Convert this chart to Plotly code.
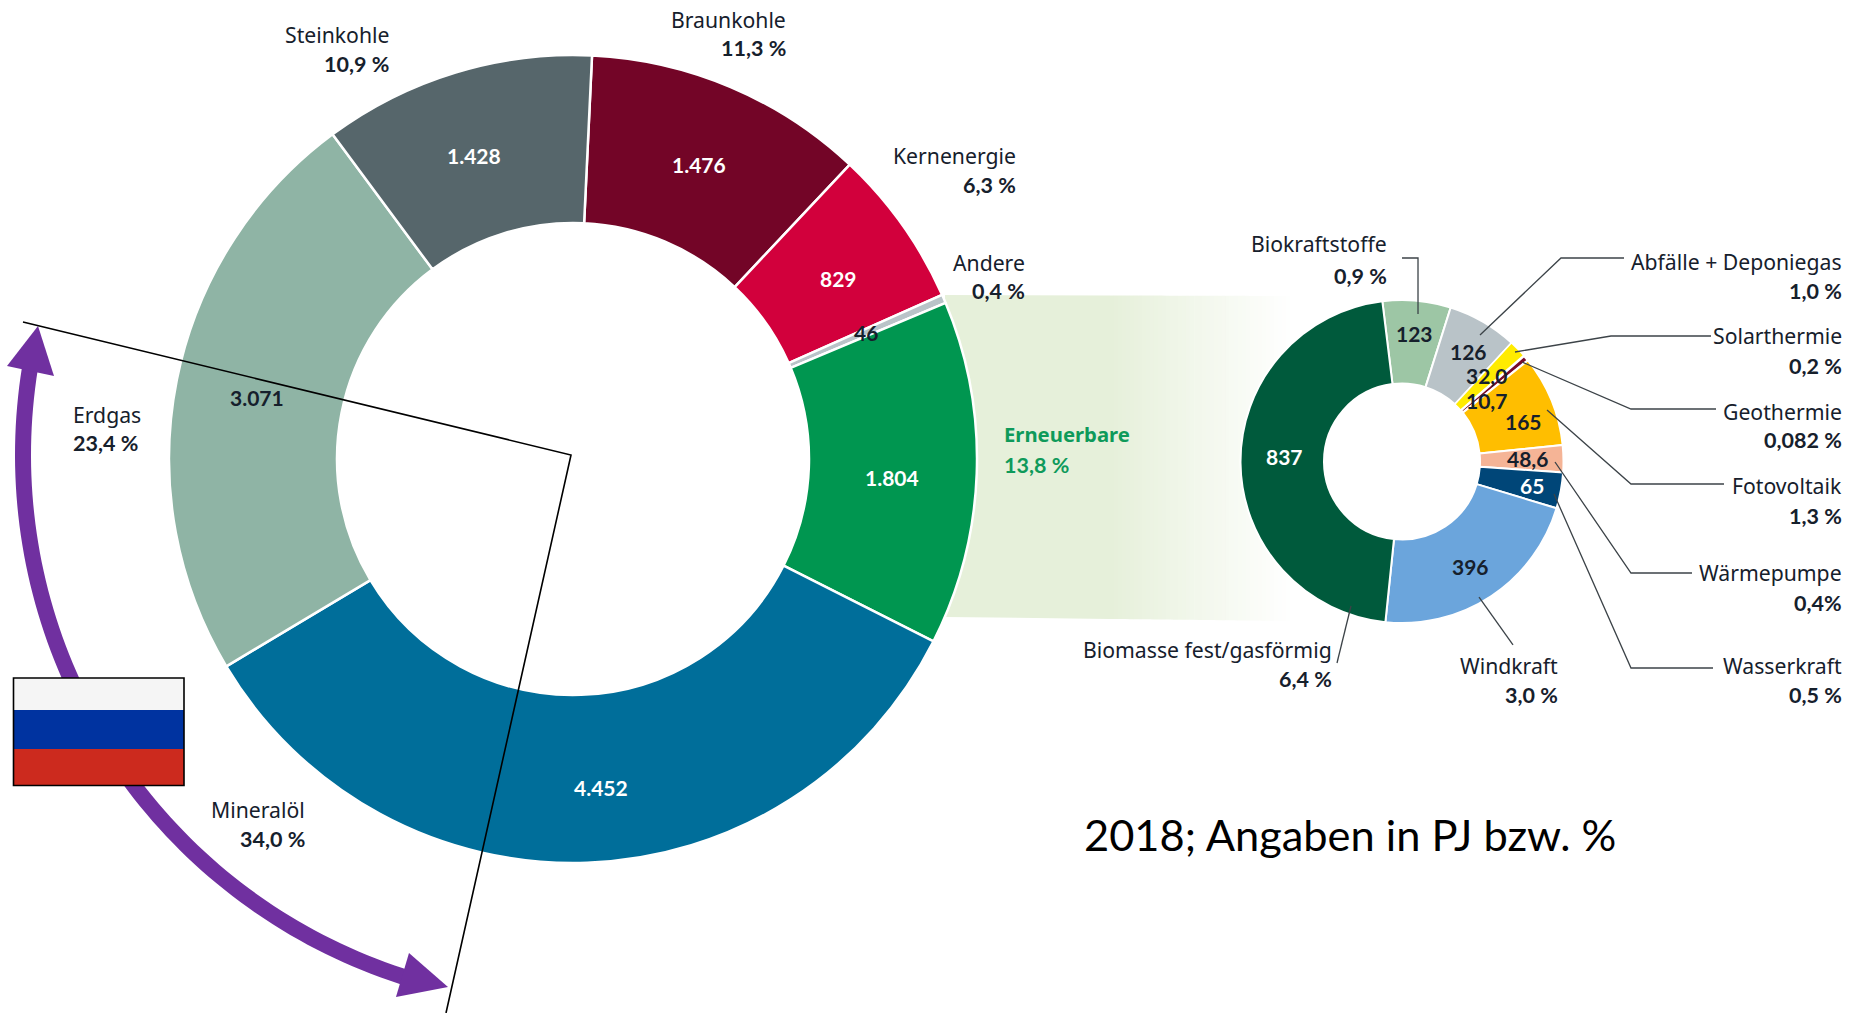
import math
import plotly.graph_objects as go

W, H = 1850, 1013

# ---- data ----
main_labels = ["Braunkohle", "Kernenergie", "Andere", "Erneuerbare", "Mineralöl", "Erdgas", "Steinkohle"]
main_values = [1476, 829, 46, 1804, 4452, 3071, 1428]
main_colors = ["#730527", "#D2003C", "#B9C3C8", "#009650", "#006E9A", "#8FB4A5", "#56666B"]
main_value_text = ["1.476", "829", "46", "1.804", "4.452", "3.071", "1.428"]
main_value_color = ["white", "white", "#16202c", "white", "white", "#16202c", "white"]
main_value_xy = [(699, 165), (838, 278), (866, 332), (892, 477), (601, 787), (257, 397), (474, 156)]

ren_labels = ["Biokraftstoffe", "Abfälle + Deponiegas", "Solarthermie", "Geothermie", "Fotovoltaik",
              "Wärmepumpe", "Wasserkraft", "Windkraft", "Biomasse fest/gasförmig"]
ren_values = [123, 126, 32.0, 10.7, 165, 48.6, 65, 396, 837]
ren_colors = ["#9DC6A5", "#B9C3C8", "#FFEB00", "#780A28", "#FFBE00", "#F5B496", "#004678", "#6BA5DC", "#005A3C"]
ren_value_text = ["123", "126", "32,0", "10,7", "165", "48,6", "65", "396", "837"]
ren_value_color = ["#16202c"] * 6 + ["white", "#16202c", "white"]
ren_value_xy = [(1414, 333), (1468, 351), (1486, 376), (1486, 400), (1523, 422), (1527, 458), (1532, 486), (1470, 566), (1284, 457)]

# name, percent, anchor x, y name, y percent, align
outer_labels = [
    ("Steinkohle", "10,9 %", 391, 34, 64, "right"),
    ("Braunkohle", "11,3 %", 788, 19, 48, "right"),
    ("Kernenergie", "6,3 %", 1018, 156, 185, "right"),
    ("Andere", "0,4 %", 1027, 262, 291, "right"),
    ("Erdgas", "23,4 %", 71, 414, 443, "left"),
    ("Mineralöl", "34,0 %", 307, 809, 839, "right"),
    ("Biokraftstoffe", "0,9 %", 1389, 244, 276, "right"),
    ("Abfälle + Deponiegas", "1,0 %", 1844, 261, 291, "right"),
    ("Solarthermie", "0,2 %", 1844, 335, 366, "right"),
    ("Geothermie", "0,082 %", 1844, 411, 440, "right"),
    ("Fotovoltaik", "1,3 %", 1844, 486, 516, "right"),
    ("Wärmepumpe", "0,4%", 1844, 572, 603, "right"),
    ("Wasserkraft", "0,5 %", 1844, 665, 695, "right"),
    ("Windkraft", "3,0 %", 1560, 665, 695, "right"),
    ("Biomasse fest/gasförmig", "6,4 %", 1334, 649, 679, "right"),
]
renew_title = ("Erneuerbare", "13,8 %")
caption = "2018; Angaben in PJ bzw. %"

leaders = [
    [(1402, 258), (1418, 258), (1418, 314)],
    [(1624, 258), (1561, 258), (1480, 335)],
    [(1711, 336), (1611, 336), (1515, 352)],
    [(1716, 409), (1631, 409), (1522, 362)],
    [(1724, 484), (1631, 484), (1547, 410)],
    [(1692, 573), (1631, 573), (1555, 462)],
    [(1713, 668), (1631, 668), (1554, 494)],
    [(1513, 645), (1479, 597)],
    [(1337, 663), (1351, 606)],
]

# ---- helpers ----
px = lambda x: x / W
py = lambda y: 1 - y / H


def pie_domain(cx, cy, r):
    return dict(x=[px(cx - r), px(cx + r)], y=[py(cy + r), py(cy - r)])


def path_of(points, close=False):
    s = "M" + " L".join(f"{px(x):.5f},{py(y):.5f}" for x, y in points)
    return s + (" Z" if close else "")


shapes = []

# gradient ribbon behind the donuts
RIB = "230,240,218"
x0, x1, xf = 945, 1110, 1292
top0, top1 = 295, 296
bot0, bot1 = 617, 621


def top(x):
    return top0 + (top1 - top0) * (x - x0) / (xf - x0)


def bot(x):
    return bot0 + (bot1 - bot0) * (x - x0) / (xf - x0)


shapes.append(dict(type="path", xref="paper", yref="paper", layer="below", line_width=0,
                   fillcolor=f"rgb({RIB})",
                   path=path_of([(x0, top(x0)), (x1, top(x1)), (x1, bot(x1)), (x0, bot(x0))], True)))
for x in range(x1, xf, 4):
    a = 1 - (x + 2 - x1) / (xf - x1)
    shapes.append(dict(type="path", xref="paper", yref="paper", layer="below", line_width=0,
                       fillcolor=f"rgba({RIB},{a:.3f})",
                       path=path_of([(x, top(x)), (x + 4, top(x + 4)), (x + 4, bot(x + 4)), (x, bot(x))], True)))

# leader lines
for pts in leaders:
    shapes.append(dict(type="path", xref="paper", yref="paper", layer="above",
                       line=dict(color="#3c4348", width=1.3), path=path_of(pts)))

# purple arc arrow
ACX, ACY, AR = 571, 455, 548
PURPLE = "#7030A0"


def on_arc(deg):
    t = math.radians(deg)
    return (ACX + AR * math.cos(t), ACY + AR * math.sin(t))


a_start, a_end = 107, 180 + 9.1  # screen degrees, y down
arc_pts = [on_arc(a_start + (a_end - a_start) * i / 80) for i in range(81)]
shapes.append(dict(type="path", xref="paper", yref="paper", layer="above",
                   line=dict(color=PURPLE, width=16), path=path_of(arc_pts)))
shapes.append(dict(type="path", xref="paper", yref="paper", layer="above", fillcolor=PURPLE, line_width=0,
                   path=path_of([(38, 326), (7, 366), (54, 376)], True)))
shapes.append(dict(type="path", xref="paper", yref="paper", layer="above", fillcolor=PURPLE, line_width=0,
                   path=path_of([(448, 987), (409, 953), (396, 997)], True)))

# thin black angle lines
shapes.append(dict(type="path", xref="paper", yref="paper", layer="above",
                   line=dict(color="#000000", width=1.6),
                   path=path_of([(23, 322), (571, 455), (446, 1013)])))

# flag
for y0, y1, c in [(678, 710, "#F5F5F5"), (710, 749, "#0033A0"), (749, 785, "#CC2A1E")]:
    shapes.append(dict(type="rect", xref="paper", yref="paper", layer="above", line_width=0, fillcolor=c,
                       x0=px(13.5), x1=px(184), y0=py(y0), y1=py(y1)))
shapes.append(dict(type="rect", xref="paper", yref="paper", layer="above",
                   line=dict(color="#000000", width=1.6), fillcolor="rgba(0,0,0,0)",
                   x0=px(13.5), x1=px(184), y0=py(678), y1=py(785.5)))

# ---- text ----
FONT = "Lato"
NAME_FONT = "Noto Sans"
DARK = "#16202c"
GREEN = "#0E9A5A"


def note(x, y, text, color=DARK, size=21, bold=False, anchor="center", family=FONT):
    return dict(xref="paper", yref="paper", x=px(x), y=py(y), text=f"<b>{text}</b>" if bold else text,
                showarrow=False, xanchor=anchor, yanchor="middle", align=anchor,
                font=dict(family=family, size=size, color=color))


ann = []
for t, c, xy in zip(main_value_text + ren_value_text, main_value_color + ren_value_color,
                    main_value_xy + ren_value_xy):
    ann.append(note(xy[0], xy[1], t, color=c, bold=True))
for name, pct, x, y1, y2, al in outer_labels:
    ann.append(note(x, y1, name, anchor=al, family=NAME_FONT, size=21.2))
    ann.append(note(x, y2, pct, anchor=al, bold=True, size=21.5))
ann.append(note(1002, 434, renew_title[0], color=GREEN, anchor="left", bold=True, family=NAME_FONT, size=20.3))
ann.append(note(1002, 465, renew_title[1], color=GREEN, anchor="left", bold=True, size=21.5))
ann.append(note(1082, 834, caption, color="#000000", size=43.4, anchor="left"))

# ---- figure ----
fig = go.Figure()
fig.add_trace(go.Pie(labels=main_labels, values=main_values, sort=False, direction="clockwise",
                     rotation=2.7, hole=236 / 404, textinfo="none", hoverinfo="label+value",
                     marker=dict(colors=main_colors, line=dict(color="white", width=2.5)),
                     domain=pie_domain(573, 459, 404), showlegend=False))
fig.add_trace(go.Pie(labels=ren_labels, values=ren_values, sort=False, direction="clockwise",
                     rotation=-7, hole=78 / 161.5, textinfo="none", hoverinfo="label+value",
                     marker=dict(colors=ren_colors, line=dict(color="white", width=[2, 2, 1.5, 2.5, 2, 2, 2, 2, 2])),
                     domain=pie_domain(1402, 461.5, 161.5), showlegend=False))
fig.update_layout(width=W, height=H, margin=dict(l=0, r=0, t=0, b=0), paper_bgcolor="white",
                  plot_bgcolor="white", showlegend=False, shapes=shapes, annotations=ann)
fig.write_html("out.html", config=dict(displayModeBar=False),
               post_script="document.body.style.margin='0';document.body.style.overflow='hidden';")
